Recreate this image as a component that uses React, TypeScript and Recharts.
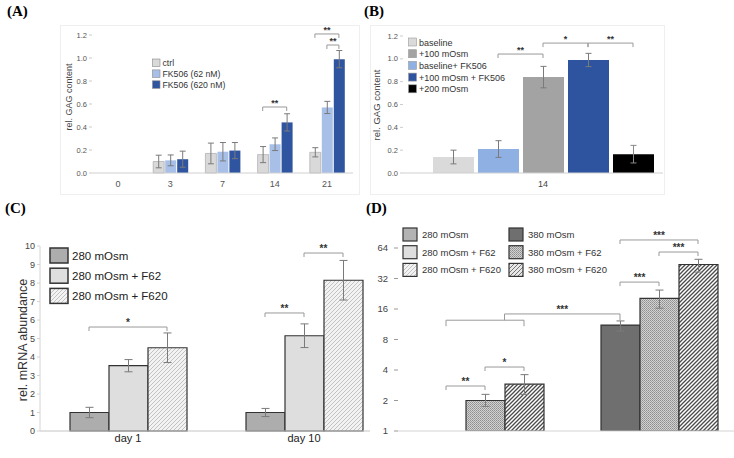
import React from "react";
import { Bar, BarChart, Cell, ErrorBar, XAxis, YAxis } from "recharts";

// ---- (A) GAG content over time ----
const daysA = ["0", "3", "7", "14", "21"];
const ctrlA = [null, 0.1, 0.17, 0.16, 0.18];
const ctrlErrA = [null, 0.055, 0.09, 0.07, 0.04];
const fk62A = [null, 0.11, 0.185, 0.25, 0.57];
const fk62ErrA = [null, 0.047, 0.08, 0.055, 0.053];
const fk620A = [null, 0.12, 0.195, 0.44, 0.99];
const fk620ErrA = [null, 0.07, 0.07, 0.075, 0.075];
const legendA = ["ctrl", "FK506 (62 nM)", "FK506 (620 nM)"];
const ticksA = [0, 0.2, 0.4, 0.6, 0.8, 1.0, 1.2];

// ---- (B) day 14, osmolarity ----
const catB = ["14"];
const keysB = ["baseline", "baselineFK", "mosm100", "mosm100FK", "mosm200"];
const valsB = [0.14, 0.21, 0.84, 0.99, 0.165];
const errsB = [0.06, 0.073, 0.094, 0.058, 0.077];
const legendB = ["baseline", "+100 mOsm", "baseline+ FK506", "+100 mOsm + FK506", "+200 mOsm"];

// ---- (C) mRNA, 280 mOsm ----
const daysC = ["day 1", "day 10"];
const s280C = [1.0, 1.0];
const s280ErrC = [0.28, 0.22];
const f62C = [3.53, 5.15];
const f62ErrC = [0.33, 0.64];
const f620C = [4.5, 8.15];
const f620ErrC = [0.8, 1.07];
const legendC = ["280 mOsm", "280 mOsm + F62", "280 mOsm + F620"];
const ticksC = [0, 1, 2, 3, 4, 5, 6, 7, 8, 9, 10];

// ---- (D) mRNA, 280 vs 380 mOsm (log2) ----
const groupsD = ["280 mOsm", "380 mOsm"];
const baseD = [1, 11.1];
const baseErrD: [number, number][] = [[0, 0.2], [1.4, 1.1]];
const f62D = [2.0, 20.4];
const f62ErrD: [number, number][] = [[0.25, 0.3], [4.1, 4.2]];
const f620D = [2.9, 44];
const f620ErrD: [number, number][] = [[0.6, 0.7], [7, 5.5]];
const legendD = ["280 mOsm", "280 mOsm + F62", "280 mOsm + F620", "380 mOsm", "380 mOsm + F62", "380 mOsm + F620"];
const ticksD = [1, 2, 4, 8, 16, 32, 64];

const dataA = daysA.map((day, i) => ({
  day, ctrl: ctrlA[i], ctrlErr: ctrlErrA[i], fk62: fk62A[i], fk62Err: fk62ErrA[i], fk620: fk620A[i], fk620Err: fk620ErrA[i],
}));
const dataB = catB.map((c) => {
  const row: any = { c };
  keysB.forEach((k, i) => { row[k] = valsB[i]; row[k + "Err"] = errsB[i]; });
  return row;
});
const dataC = daysC.map((day, i) => ({
  day, s280: s280C[i], s280Err: s280ErrC[i], f62: f62C[i], f62Err: f62ErrC[i], f620: f620C[i], f620Err: f620ErrC[i],
}));
const dataD = groupsD.map((g, i) => ({
  g, base: baseD[i], baseErr: baseErrD[i], f62: f62D[i], f62Err: f62ErrD[i], f620: f620D[i], f620Err: f620ErrD[i],
}));

// bar centre helper (same band maths as the chart)
type Geo = { left: number; width: number; padL: number; nCats: number; nSeries: number; barSize: number; barGap: number };
const barX = (g: Geo, cat: number, s: number) => {
  const band = (g.width - g.padL) / g.nCats;
  const total = g.nSeries * g.barSize + (g.nSeries - 1) * g.barGap;
  return g.left + g.padL + cat * band + (band - total) / 2 + s * (g.barSize + g.barGap) + g.barSize / 2;
};
const linY = (top: number, bottom: number, max: number) => (v: number) => bottom - (v / max) * (bottom - top);
const logY = (top: number, bottom: number, min: number, max: number) => (v: number) =>
  bottom - (Math.log(v / min) / Math.log(max / min)) * (bottom - top);

const geoA: Geo = { left: 92, width: 261, padL: 0, nCats: 5, nSeries: 3, barSize: 11, barGap: 1 };
const yA = linY(35, 173, 1.2);
const geoB: Geo = { left: 33, width: 260, padL: 20, nCats: 1, nSeries: 5, barSize: 41, barGap: 4 };
const yB = linY(36, 173, 1.2);
const geoC: Geo = { left: 40, width: 352, padL: 0, nCats: 2, nSeries: 3, barSize: 39, barGap: 0 };
const yC = linY(26, 211, 10);
const geoD: Geo = { left: 28, width: 348, padL: 0, nCats: 2, nSeries: 3, barSize: 39, barGap: 0 };
const yD = logY(28, 211, 1, 64);

const Bracket = ({ x1, x2, y, label, leg = 4, fs = 9 }: any) => (
  <g>
    <path d={`M${x1},${y + leg}V${y}H${x2}V${y + leg}`} fill="none" stroke="#999" strokeWidth={1} />
    <text x={(x1 + x2) / 2} y={y - 1} textAnchor="middle" fontSize={fs} fontWeight="bold" fill="#333">{label}</text>
  </g>
);

const PanelLabel = ({ x, y, t }: any) => (
  <div style={{ position: "absolute", left: x, top: y, fontFamily: "'Liberation Serif', serif", fontWeight: "bold", fontSize: 15, color: "#000" }}>{t}</div>
);

const overlay: React.CSSProperties = { position: "absolute", left: 0, top: 0, pointerEvents: "none" };

export default function App() {
  const errStyle = { stroke: "#7a7a7a", strokeWidth: 1 };
  const fillsA = ["#d9d9d9", "#a8c0e8", "#2f55a0"];
  const fillsB = ["#dadada", "#8fb0e3", "#a3a3a3", "#2f549f", "#000000"];
  const legendFillsB = ["#dadada", "#a3a3a3", "#8fb0e3", "#2f549f", "#000000"];
  const fillsC = ["#adadad", "#dedede", "url(#hatchLight)"];
  const legendFillsD = ["#b3b3b3", "#dedede", "url(#hatchLight)", "#6f6f6f", "url(#stipple)", "url(#hatchMid)"];

  return (
    <div style={{ position: "absolute", left: 0, top: 0, width: 734, height: 458, background: "#fff", fontFamily: "'Liberation Sans', Arial, sans-serif", overflow: "hidden" }}>
      <svg width={0} height={0} style={{ position: "absolute" }}>
        <defs>
          <pattern id="hatchLight" patternUnits="userSpaceOnUse" width={4} height={4}>
            <rect width={4} height={4} fill="#f3f3f3" />
            <path d="M-1,1l2,-2M0,4l4,-4M3,5l2,-2" stroke="#b5b5b5" strokeWidth={0.8} />
          </pattern>
          <pattern id="hatchDark" patternUnits="userSpaceOnUse" width={4} height={4}>
            <rect width={4} height={4} fill="#ffffff" />
            <path d="M-1,1l2,-2M0,4l4,-4M3,5l2,-2" stroke="#4a4a4a" strokeWidth={1.3} />
          </pattern>
          <pattern id="hatchMid" patternUnits="userSpaceOnUse" width={4} height={4}>
            <rect width={4} height={4} fill="#e8e8e8" />
            <path d="M-1,1l2,-2M0,4l4,-4M3,5l2,-2" stroke="#777" strokeWidth={1} />
          </pattern>
          <pattern id="stipple" patternUnits="userSpaceOnUse" width={2} height={2}>
            <rect width={2} height={2} fill="#d2d2d2" />
            <rect x={0} y={0} width={1} height={1} fill="#8e8e8e" />
            <rect x={1} y={1} width={1} height={1} fill="#a0a0a0" />
          </pattern>
        </defs>
      </svg>

      {/* (A) */}
      <PanelLabel x={7} y={3} t="(A)" />
      <div style={{ position: "absolute", left: 0, top: 0, width: 370, height: 200 }}>
        <div style={{ position: "absolute", left: 60, top: 25, width: 298, height: 168, border: "1px solid #efefef" }} />
        <BarChart width={370} height={200} data={dataA} margin={{ top: 35, right: 17, bottom: 7, left: 62 }} barSize={11} barGap={1}>
          <XAxis dataKey="day" height={20} tickLine={false} stroke="#d0d0d0" tick={{ fontSize: 9, fill: "#555" }} />
          <YAxis width={30} domain={[0, 1.2]} ticks={ticksA} tickFormatter={(v: number) => v.toFixed(1)} axisLine={false} tickSize={3} tickLine={{ stroke: "#ccc" }} tick={{ fontSize: 7.5, fill: "#555" }} />
          <Bar dataKey="ctrl" fill={fillsA[0]} stroke="#a0a0a0" strokeWidth={0.6} isAnimationActive={false}>
            <ErrorBar dataKey="ctrlErr" width={3} {...errStyle} />
          </Bar>
          <Bar dataKey="fk62" fill={fillsA[1]} isAnimationActive={false}>
            <ErrorBar dataKey="fk62Err" width={3} {...errStyle} />
          </Bar>
          <Bar dataKey="fk620" fill={fillsA[2]} isAnimationActive={false}>
            <ErrorBar dataKey="fk620Err" width={3} {...errStyle} />
          </Bar>
        </BarChart>
        <svg width={370} height={200} style={overlay}>
          <text transform="translate(72,97) rotate(-90)" textAnchor="middle" fontSize={9} fill="#444">rel. GAG content</text>
          {legendA.map((t, i) => (
            <g key={t}>
              <rect x={152.5} y={59 + i * 10.9} width={7.5} height={7.5} fill={fillsA[i]} stroke="#888" strokeWidth={0.6} />
              <text x={162.5} y={66 + i * 10.9} fontSize={8.7} fill="#333">{t}</text>
            </g>
          ))}
          <Bracket x1={barX(geoA, 3, 0)} x2={barX(geoA, 3, 2)} y={yA(0.574)} label="**" />
          <Bracket x1={barX(geoA, 4, 0)} x2={barX(geoA, 4, 2)} y={yA(1.209)} label="**" />
          <Bracket x1={barX(geoA, 4, 1)} x2={barX(geoA, 4, 2)} y={yA(1.113)} label="**" />
        </svg>
      </div>

      {/* (B) */}
      <PanelLabel x={364} y={3} t="(B)" />
      <div style={{ position: "absolute", left: 370, top: 0, width: 364, height: 200 }}>
        <div style={{ position: "absolute", left: 0, top: 25, width: 293, height: 168, border: "1px solid #efefef" }} />
        <BarChart width={364} height={200} data={dataB} margin={{ top: 36, right: 71, bottom: 7, left: 8 }} barSize={41} barGap={4}>
          <XAxis dataKey="c" height={20} tickLine={false} stroke="#d0d0d0" padding={{ left: 20, right: 0 }} tick={{ fontSize: 9, fill: "#444" }} />
          <YAxis width={25} domain={[0, 1.2]} ticks={ticksA} tickFormatter={(v: number) => v.toFixed(1)} axisLine={false} tickSize={3} tickLine={{ stroke: "#ccc" }} tick={{ fontSize: 7.5, fill: "#555" }} />
          {keysB.map((k, i) => (
            <Bar key={k} dataKey={k} fill={fillsB[i]} isAnimationActive={false}>
              <ErrorBar dataKey={k + "Err"} width={3} {...errStyle} stroke={i === 4 ? "#888" : "#7a7a7a"} />
            </Bar>
          ))}
        </BarChart>
        <svg width={364} height={200} style={overlay}>
          <text transform="translate(10,105) rotate(-90)" textAnchor="middle" fontSize={9.5} fill="#444">rel. GAG content</text>
          {legendB.map((t, i) => (
            <g key={t}>
              <rect x={38.5} y={38 + i * 11.7} width={8} height={8} fill={legendFillsB[i]} stroke="#999" strokeWidth={0.6} />
              <text x={49} y={45.5 + i * 11.7} fontSize={9} fill="#333">{t}</text>
            </g>
          ))}
          <Bracket x1={barX(geoB, 0, 1)} x2={barX(geoB, 0, 2)} y={yB(1.042)} label="**" />
          <Bracket x1={barX(geoB, 0, 2)} x2={barX(geoB, 0, 3)} y={yB(1.138)} label="*" />
          <Bracket x1={barX(geoB, 0, 3)} x2={barX(geoB, 0, 4)} y={yB(1.138)} label="**" />
        </svg>
      </div>

      {/* (C) */}
      <PanelLabel x={5} y={200} t="(C)" />
      <div style={{ position: "absolute", left: 0, top: 220, width: 370, height: 238, overflow: "hidden" }}>
        <BarChart width={400} height={238} data={dataC} margin={{ top: 26, right: 8, bottom: 7, left: 18 }} barSize={39} barGap={0}>
          <XAxis dataKey="day" height={20} tickLine={false} tickSize={2} tickMargin={1} stroke="#c4c4c4" tick={{ fontSize: 11, fill: "#222" }} />
          <YAxis width={22} domain={[0, 10]} ticks={ticksC} stroke="#d4d4d4" tickSize={3} tick={{ fontSize: 9, fill: "#444" }} />
          <Bar dataKey="s280" fill={fillsC[0]} stroke="#333" strokeWidth={1.2} isAnimationActive={false}>
            <ErrorBar dataKey="s280Err" width={4} {...errStyle} />
          </Bar>
          <Bar dataKey="f62" fill={fillsC[1]} stroke="#333" strokeWidth={1.2} isAnimationActive={false}>
            <ErrorBar dataKey="f62Err" width={4} {...errStyle} />
          </Bar>
          <Bar dataKey="f620" fill={fillsC[2]} stroke="#333" strokeWidth={1.2} isAnimationActive={false}>
            <ErrorBar dataKey="f620Err" width={4} {...errStyle} />
          </Bar>
        </BarChart>
        <svg width={400} height={238} style={overlay}>
          <text transform="translate(27,120) rotate(-90)" textAnchor="middle" fontSize={12.5} fill="#333">rel. mRNA abundance</text>
          {legendC.map((t, i) => (
            <g key={t}>
              <rect x={50} y={28 + i * 20.2} width={18} height={15} fill={fillsC[i]} stroke="#333" strokeWidth={1.5} />
              <text x={72} y={40 + i * 20.2} fontSize={11.5} fill="#222">{t}</text>
            </g>
          ))}
          <Bracket x1={barX(geoC, 0, 0)} x2={barX(geoC, 0, 2)} y={yC(5.62)} label="*" fs={10} />
          <Bracket x1={barX(geoC, 1, 0)} x2={barX(geoC, 1, 1)} y={yC(6.38)} label="**" fs={10} />
          <Bracket x1={barX(geoC, 1, 1)} x2={barX(geoC, 1, 2)} y={yC(9.62)} label="**" fs={10} />
        </svg>
      </div>

      {/* (D) */}
      <PanelLabel x={366} y={200} t="(D)" />
      <div style={{ position: "absolute", left: 370, top: 220, width: 364, height: 238, overflow: "hidden" }}>
        <BarChart width={400} height={238} data={dataD} margin={{ top: 28, right: 24, bottom: 7, left: 0 }} barSize={39} barGap={0}>
          <XAxis dataKey="g" height={20} tick={false} tickLine={false} stroke="#d4d4d4" />
          <YAxis width={28} scale="log" domain={[1, 64]} ticks={ticksD} allowDataOverflow axisLine={false} tickSize={4} tickMargin={6} tickLine={{ stroke: "#999" }} tick={{ fontSize: 9.5, fill: "#444" }} />
          <Bar dataKey="base" stroke="#333" strokeWidth={1.2} isAnimationActive={false}>
            {dataD.map((d, i) => <Cell key={d.g} fill={i === 0 ? "#b3b3b3" : "#6f6f6f"} />)}
            <ErrorBar dataKey="baseErr" width={4} {...errStyle} />
          </Bar>
          <Bar dataKey="f62" fill="url(#stipple)" stroke="#333" strokeWidth={1.2} isAnimationActive={false}>
            <ErrorBar dataKey="f62Err" width={4} {...errStyle} />
          </Bar>
          <Bar dataKey="f620" fill="url(#hatchDark)" stroke="#333" strokeWidth={1.2} isAnimationActive={false}>
            <ErrorBar dataKey="f620Err" width={4} {...errStyle} />
          </Bar>
        </BarChart>
        <svg width={400} height={238} style={overlay}>
          {legendD.map((t, i) => {
            const col = Math.floor(i / 3);
            const row = i % 3;
            return (
              <g key={t}>
                <rect x={33 + col * 106} y={8 + row * 17.7} width={14} height={13} fill={legendFillsD[i]} stroke="#333" strokeWidth={1.2} />
                <text x={52 + col * 106} y={18 + row * 17.7} fontSize={9.5} fill="#333">{t}</text>
              </g>
            );
          })}
          <Bracket x1={barX(geoD, 0, 0)} x2={barX(geoD, 0, 1)} y={yD(2.78)} label="**" fs={10} />
          <Bracket x1={barX(geoD, 0, 1)} x2={barX(geoD, 0, 2)} y={yD(4.28)} label="*" fs={10} />
          {(() => {
            const xl = barX(geoD, 0, 0);
            const xr = barX(geoD, 0, 2);
            const xs = (barX(geoD, 0, 1) + barX(geoD, 0, 2)) / 2;
            const xe = barX(geoD, 1, 0);
            const y1 = yD(12.4);
            const y2 = yD(14.3);
            return (
              <g>
                <path d={`M${xl},${y1 + 6}V${y1}H${xr}V${y1 + 6}M${xs},${y1}V${y2}H${xe}V${y1}`} fill="none" stroke="#999" strokeWidth={1} />
                <text x={(xs + xe) / 2} y={y2 - 1} textAnchor="middle" fontSize={10} fontWeight="bold" fill="#333">***</text>
              </g>
            );
          })()}
          <Bracket x1={barX(geoD, 1, 0)} x2={barX(geoD, 1, 1)} y={yD(29.5)} label="***" fs={10} />
          <Bracket x1={barX(geoD, 1, 0)} x2={barX(geoD, 1, 2)} y={yD(76.8)} label="***" fs={10} />
          <Bracket x1={barX(geoD, 1, 1)} x2={barX(geoD, 1, 2)} y={yD(58.4)} label="***" fs={10} />
        </svg>
      </div>
    </div>
  );
}
